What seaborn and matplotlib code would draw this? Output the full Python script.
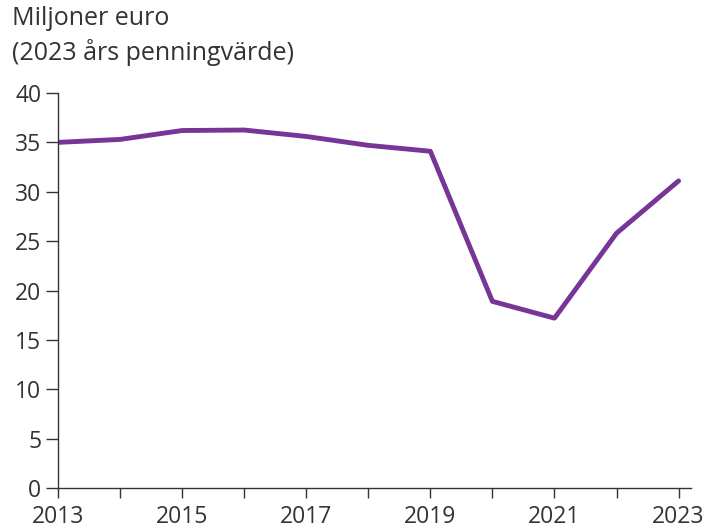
import pandas as pd
import seaborn as sns
import matplotlib.pyplot as plt

years = [2013, 2014, 2015, 2016, 2017, 2018, 2019, 2020, 2021, 2022, 2023]
values = [35.0, 35.3, 36.2, 36.25, 35.6, 34.7, 34.1, 18.9, 17.2, 25.8, 31.1]
yticks = [0, 5, 10, 15, 20, 25, 30, 35, 40]
xlabels = ["2013", "", "2015", "", "2017", "", "2019", "", "2021", "", "2023"]

df = pd.DataFrame({"year": years, "value": values})

sns.set_style("ticks")
plt.rcParams["font.family"] = ["Open Sans", "DejaVu Sans"]
text_col = "#333333"

fig = plt.figure(figsize=(7.06, 5.29), dpi=100)
ax = fig.add_axes([58 / 706, 1 - 488 / 529, (691 - 58) / 706, (488 - 93) / 529])

sns.lineplot(data=df, x="year", y="value", ax=ax, color="#763597", linewidth=3.5)

ax.set_xlim(2013, 2023.2)
ax.set_ylim(0, 40)
ax.set_yticks(yticks)
ax.set_xticks(years)
ax.set_xticklabels(xlabels)
ax.set_xlabel("")
ax.set_ylabel("")
ax.tick_params(axis="both", labelsize=16.5, colors=text_col, width=1)
ax.tick_params(axis="y", length=9, pad=3)
ax.tick_params(axis="x", length=7, pad=5)
for s in ["left", "bottom"]:
    ax.spines[s].set_color(text_col)
    ax.spines[s].set_linewidth(1)
sns.despine(ax=ax)

fig.text(12 / 706, 1 - 6 / 529, "Miljoner euro\n(2023 års penningvärde)", ha="left", va="top",
         fontsize=18, color=text_col, linespacing=1.4)

fig.savefig("out.png", dpi=100)
